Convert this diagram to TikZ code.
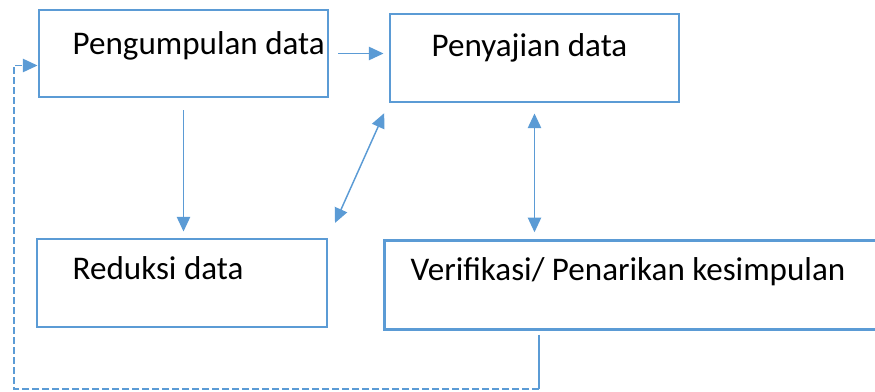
\documentclass[tikz,border=0pt]{standalone}
\usepackage{fontspec}
\setmainfont{Carlito}
\usetikzlibrary{arrows.meta}
\definecolor{biru}{RGB}{91,155,213}

\begin{document}
\begin{tikzpicture}[x=0.75pt,y=-0.75pt,line width=1.1pt,>={Triangle[length=11pt,width=10pt]},
  kotak/.style={draw=biru,line width=2.2pt,fill=white,inner sep=0pt},
  panah/.style={draw=biru,->},
  teks/.style={anchor=base west,inner sep=0pt,font=\fontsize{24.8}{29}\selectfont}]
  \useasboundingbox (0,0) rectangle (875,392);
  % kotak
  \node[kotak,minimum width=216.75pt,minimum height=65.25pt] (kumpul) at (183.5,53.5) {};
  \node[kotak,minimum width=216.75pt,minimum height=66pt] (saji) at (534.5,58) {};
  \node[kotak,minimum width=217.5pt,minimum height=66pt] (reduksi) at (182,283) {};
  % kotak kanan terpotong di tepi gambar
  \node[inner sep=0pt,minimum width=412pt,minimum height=66pt] (verif) at (660,285) {};
  \draw[biru,line width=2.2pt] (verif.north east) -- (verif.north west) -- (verif.south west) -- (verif.south east);
  % teks
  \node[teks] (kumpul-t) at (72,55) {Pengumpulan data};
  \node[teks] (saji-t) at (431,57) {Penyajian data};
  \node[teks] (reduksi-t) at (72,279) {Reduksi data};
  \node[teks] (verif-t) at (410,280) {Verifikasi/ Penarikan kesimpulan};
  % panah
  \draw[panah,shorten <=6.75pt,shorten >=3.75pt] (kumpul.east) -- (kumpul.east -| saji.west);
  \draw[panah,shorten <=9pt,shorten >=4.5pt] (kumpul.south) -- (kumpul.south |- reduksi.north);
  \draw[panah,<->,shorten <=12pt,shorten >=8pt] (reduksi.north east) -- (saji.south west);
  \draw[panah,<->,shorten <=7.5pt,shorten >=6pt] (saji.south) -- (saji.south |- verif.north);
  % umpan balik
  \coordinate (bawah) at (539,389);
  \coordinate (kiri) at (14,389);
  \draw[biru,shorten <=3.75pt] (bawah |- verif.south) -- (bawah);
  \draw[panah,dash pattern=on 5pt off 2.5pt] (bawah) -- (kiri) |- ([yshift=-9pt]kumpul.west);
\end{tikzpicture}
\end{document}
